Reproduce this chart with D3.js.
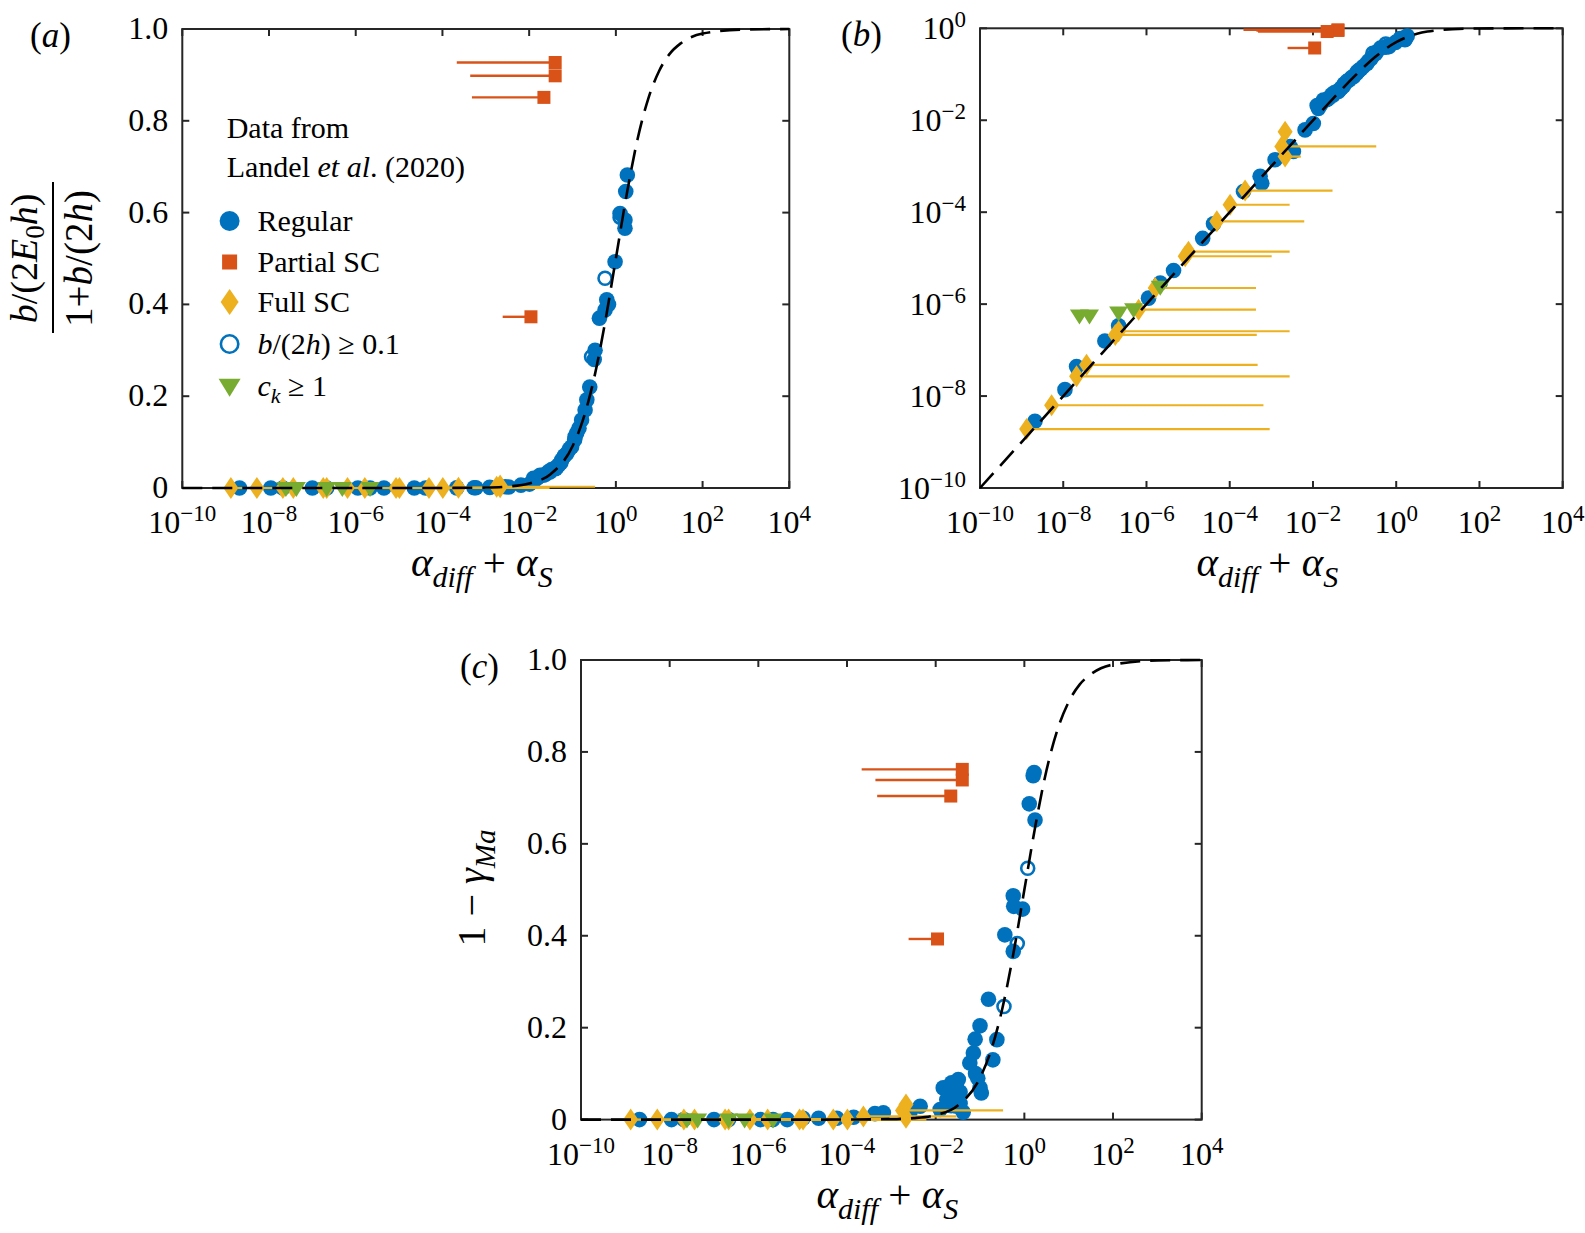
<!DOCTYPE html>
<html><head><meta charset="utf-8">
<script src="https://cdn.jsdelivr.net/npm/d3@7"></script>
<style>
body{margin:0;background:#fff}
text{font-family:"Liberation Serif","Times New Roman",serif;fill:#000}
</style>
</head><body>
<svg id="fig" width="1585" height="1233" xmlns="http://www.w3.org/2000/svg"></svg>
<script>
// ---------------- DATA ----------------
const xTickExps = [-10, -8, -6, -4, -2, 0, 2, 4];
const yTicksLin = [0, 0.2, 0.4, 0.6, 0.8, 1.0];
const yTickExpsLog = [-10, -8, -6, -4, -2, 0];

// dashed model curve
const curveX = [1e-10,1e-9,1e-8,1e-7,1e-6,1e-5,1e-4,1e-3,3.16e-3,1e-2,0.0316,0.1,0.178,0.316,0.562,1,1.78,3.16,5.62,10,17.8,31.6,100,1000,1e4];
const curveY = [1e-10,1e-9,1e-8,1e-7,1e-6,1e-5,1e-4,0.001,0.00315,0.0099,0.0307,0.0909,0.151,0.240,0.36,0.5,0.64,0.76,0.849,0.909,0.947,0.969,0.990,0.999,0.9999];

// Regular (panels a, b)
const regX = [2.09e-9,1.10e-8,2.09e-8,1.0e-7,2.14e-7,1.12e-6,2.14e-6,4.47e-6,2.24e-5,4.07e-5,2.14e-4,5.37e-4,5.89e-4,1.23e-3,2.82e-3,3.39e-3,6.46e-3,0.0102,
  0.0126,0.0135,0.0155,0.0178,0.0214,0.024,0.0282,0.0302,0.033,0.0407,0.0437,0.048,0.0537,0.0562,0.065,0.0741,0.085,0.0955,0.112,0.115,0.125,0.141,0.162,0.195,0.214,0.25,0.316,0.331,0.417,0.562,0.617,0.676,0.959,1.25,1.62,1.62,1.69,1.84];
const regY = [2.82e-9,1.38e-8,4.37e-8,1.58e-7,3.39e-7,1.35e-6,2.88e-6,5.37e-6,2.69e-5,5.62e-5,2.82e-4,6.03e-4,4.27e-4,1.38e-3,2.69e-3,2.09e-3,6.17e-3,8.51e-3,
  0.021,0.018,0.022,0.0275,0.028,0.03,0.036,0.035,0.04,0.042,0.046,0.05,0.055,0.061,0.07,0.075,0.085,0.09,0.105,0.112,0.12,0.13,0.148,0.17,0.192,0.22,0.28,0.30,0.37,0.388,0.41,0.40,0.493,0.598,0.584,0.566,0.646,0.682];
// b/(2h) >= 0.1 (panels a, b)
const openX = [0.562, 0.275, 1.25];
const openY = [0.457, 0.286, 0.59];
// Partial SC
const partX = [0.0398, 0.0398, 0.0219, 0.011];
const partY = [0.927, 0.898, 0.851, 0.373];
const partXmin = [2.14e-4, 4.37e-4, 4.79e-4, 2.45e-3];
const partYc = [0.762, 0.739, 0.704, 0.393];
// Full SC
const fullX = [1.32e-9,5.25e-9,2.09e-8,3.63e-8,1.78e-7,2.14e-7,6.46e-7,1.62e-6,8.51e-6,1.02e-5,4.90e-5,1.02e-4,2.34e-4,1.78e-3,2.14e-3,2.14e-3];
const fullY = [1.91e-9,6.31e-9,2.69e-8,4.79e-8,2.14e-7,2.57e-7,7.59e-7,2.24e-6,1.10e-5,1.38e-5,6.31e-5,1.45e-4,2.95e-4,2.69e-3,1.62e-3,5.62e-3];
const fullXmax = [9.12e-4,6.46e-4,2.75e-3,4.68e-4,4.47e-4,2.75e-3,4.27e-4,4.27e-4,1.02e-3,2.75e-3,6.17e-3,2.75e-3,2.95e-2,0.331,5.13e-3,2.14e-3];
const fullYc = [0,0,0,0,0,0,0,0,0,0,0,0,0.007,0.02,0.004,0.033];
// c_k >= 1
const ckX = [2.45e-8, 4.27e-8, 2.14e-7, 4.90e-7, 2.14e-6];
const ckY = [5.62e-7, 5.62e-7, 6.61e-7, 7.76e-7, 2.40e-6];
const ckYc = [0, 0, 0, 0, 0];
// Regular (panel c)
const regCX = [2.09e-9,1.10e-8,2.09e-8,1.0e-7,2.14e-7,1.12e-6,2.14e-6,4.47e-6,1.02e-5,2.29e-5,5.89e-5,1.41e-4,4.27e-4,6.61e-4,2.63e-3,4.47e-3,
  0.0126,0.0148,0.0178,0.020,0.0224,0.0229,0.0251,0.0282,0.0295,0.0324,0.0355,0.0355,0.0417,0.0589,0.0708,0.0776,0.0794,0.0891,0.100,0.100,0.107,0.155,0.195,0.240,0.363,0.562,0.562,0.575,0.912,1.29,1.58,1.66,1.74];
const regCY = [0,0,0,0,0,0,0,0,0.003,0.003,0.003,0.005,0.013,0.015,0.016,0.029,
  0.022,0.069,0.043,0.06,0.03,0.080,0.05,0.075,0.029,0.087,0.06,0.035,0.016,0.123,0.145,0.175,0.10,0.09,0.204,0.069,0.058,0.262,0.130,0.174,0.402,0.366,0.487,0.464,0.458,0.687,0.748,0.755,0.652];
const openCX = [1.19, 0.692, 0.347];
const openCY = [0.547, 0.383, 0.246];

// ---------------- STYLE ----------------
const C_BLUE = "#0072BD", C_ORANGE = "#D95319", C_YELLOW = "#EDB120", C_GREEN = "#77AC30", C_AX = "#262626";
const svg = d3.select("#fig");
const MINUS = "\u2212";

function circ(g, cx, cy, r, filled) {
  g.append("circle").attr("cx", cx).attr("cy", cy).attr("r", filled ? r : r - 1.3)
    .attr("fill", filled ? C_BLUE : "none").attr("stroke", C_BLUE).attr("stroke-width", filled ? 0 : 2.6);
}
function square(g, cx, cy, s) {
  g.append("rect").attr("x", cx - s / 2).attr("y", cy - s / 2).attr("width", s).attr("height", s).attr("fill", C_ORANGE);
}
function diamond(g, cx, cy, w, h) {
  g.append("path").attr("d", `M${cx},${cy - h / 2}L${cx + w / 2},${cy}L${cx},${cy + h / 2}L${cx - w / 2},${cy}Z`).attr("fill", C_YELLOW);
}
function tri(g, cx, cy, w, h) {
  g.append("path").attr("d", `M${cx - w / 2},${cy - h * 0.4}L${cx + w / 2},${cy - h * 0.4}L${cx},${cy + h * 0.6}Z`).attr("fill", C_GREEN);
}

function powLabel(sel, e, supDy) {
  sel.append("tspan").text("10");
  sel.append("tspan").attr("font-size", 23).attr("dy", supDy).text(e < 0 ? MINUS + Math.abs(e) : String(e));
}

function panel(cfg) {
  const { L, R, T, B, ylog } = cfg;
  const x = d3.scaleLog().domain([1e-10, 1e4]).range([L, R]);
  const y = ylog ? d3.scaleLog().domain([1e-10, 1]).range([B, T]) : d3.scaleLinear().domain([0, 1]).range([B, T]);
  const yv = v => ylog ? y(v) : y(Math.max(0, v));
  const g = svg.append("g");

  // axes box and ticks
  const ax = g.append("g");
  ax.append("rect").attr("x", L).attr("y", T).attr("width", R - L).attr("height", B - T)
    .attr("fill", "none").attr("stroke", C_AX).attr("stroke-width", 2);
  const tl = 7;
  xTickExps.forEach(e => {
    const px = x(Math.pow(10, e));
    ax.append("line").attr("x1", px).attr("x2", px).attr("y1", B).attr("y2", B - tl).attr("stroke", C_AX).attr("stroke-width", 2);
    ax.append("line").attr("x1", px).attr("x2", px).attr("y1", T).attr("y2", T + tl).attr("stroke", C_AX).attr("stroke-width", 2);
    const t = ax.append("text").attr("x", px).attr("y", B + 45).attr("text-anchor", "middle").attr("font-size", 32);
    powLabel(t, e, -12);
  });
  const yT = ylog ? yTickExpsLog.map(e => Math.pow(10, e)) : yTicksLin;
  yT.forEach((v, i) => {
    const py = y(v);
    ax.append("line").attr("x1", L).attr("x2", L + tl).attr("y1", py).attr("y2", py).attr("stroke", C_AX).attr("stroke-width", 2);
    ax.append("line").attr("x1", R).attr("x2", R - tl).attr("y1", py).attr("y2", py).attr("stroke", C_AX).attr("stroke-width", 2);
    const t = ax.append("text").attr("x", L - 14).attr("y", py + (ylog ? 11 : 10)).attr("text-anchor", "end").attr("font-size", 32);
    if (ylog) powLabel(t, yTickExpsLog[i], -12);
    else t.text(v === 0 ? "0" : d3.format(".1f")(v));
  });

  // x label
  const xl = g.append("text").attr("x", (L + R) / 2 - 4).attr("y", B + 88).attr("text-anchor", "middle").attr("font-size", 41);
  xl.append("tspan").attr("font-style", "italic").text("α");
  xl.append("tspan").attr("font-style", "italic").attr("font-size", 30).attr("dy", 11).text("diff");
  xl.append("tspan").attr("dy", -11).text(" + ");
  xl.append("tspan").attr("font-style", "italic").text("α");
  xl.append("tspan").attr("font-style", "italic").attr("font-size", 30).attr("dy", 11).text("S");

  // panel letter
  const pl = g.append("text").attr("x", cfg.labX).attr("y", T + 18).attr("font-size", 35);
  pl.append("tspan").text("(");
  pl.append("tspan").attr("font-style", "italic").text(cfg.letter);
  pl.append("tspan").text(")");

  // data
  const d = cfg.data;
  const mk = g.append("g");
  d.regX.forEach((v, i) => circ(mk, x(v), yv(d.regY[i]), 7.8, true));
  d.openX.forEach((v, i) => circ(mk, x(v), yv(d.openY[i]), 7.8, false));
  d.fullX.forEach((v, i) => {
    mk.append("line").attr("x1", x(v)).attr("x2", x(fullXmax[i])).attr("y1", yv(d.fullY[i])).attr("y2", yv(d.fullY[i]))
      .attr("stroke", C_YELLOW).attr("stroke-width", 2.2);
  });
  d.partX.forEach((v, i) => {
    mk.append("line").attr("x1", x(partXmin[i])).attr("x2", x(v)).attr("y1", yv(d.partY[i])).attr("y2", yv(d.partY[i]))
      .attr("stroke", C_ORANGE).attr("stroke-width", 2.4);
  });
  d.partX.forEach((v, i) => square(mk, x(v), yv(d.partY[i]), 13));
  d.fullX.forEach((v, i) => diamond(mk, x(v), yv(d.fullY[i]), 15, 22));
  d.ckX.forEach((v, i) => tri(mk, x(v), yv(d.ckY[i]), 19, 15));

  // model curve
  const line = d3.line().x(p => x(p[0])).y(p => y(p[1])).curve(d3.curveMonotoneX);
  g.append("path").attr("d", line(curveX.map((v, i) => [v, curveY[i]])))
    .attr("fill", "none").attr("stroke", "#000").attr("stroke-width", 2.6).attr("stroke-dasharray", "20,10");
  return g;
}

// ---------------- PANELS ----------------
const dataAB = { regX, regY, openX, openY, partX, partY, fullX, fullY, ckX, ckY };
panel({ L: 182.3, R: 789.3, T: 29, B: 488, ylog: false, letter: "a", labX: 30, data: dataAB });
panel({ L: 980, R: 1562.7, T: 28.3, B: 488, ylog: true, letter: "b", labX: 841, data: dataAB });
panel({ L: 581, R: 1201.7, T: 660, B: 1119.6, ylog: false, letter: "c", labX: 460,
  data: { regX: regCX, regY: regCY, openX: openCX, openY: openCY, partX, partY: partYc, fullX, fullY: fullYc, ckX, ckY: ckYc } });

// y label (a): fraction
{
  const cy = 258.5;
  const g = svg.append("g");
  const num = g.append("text").attr("transform", `translate(37,${cy}) rotate(-90)`).attr("text-anchor", "middle").attr("font-size", 38);
  num.append("tspan").attr("font-style", "italic").text("b");
  num.append("tspan").text("/(2");
  num.append("tspan").attr("font-style", "italic").text("E");
  num.append("tspan").attr("font-size", 27).attr("dy", 7).text("0");
  num.append("tspan").attr("font-style", "italic").attr("dy", -7).text("h");
  num.append("tspan").text(")");
  g.append("line").attr("x1", 53).attr("x2", 53).attr("y1", 182).attr("y2", 333).attr("stroke", "#000").attr("stroke-width", 2);
  const den = g.append("text").attr("transform", `translate(92,${cy}) rotate(-90)`).attr("text-anchor", "middle").attr("font-size", 39);
  den.append("tspan").text("1+");
  den.append("tspan").attr("font-style", "italic").text("b");
  den.append("tspan").text("/(2");
  den.append("tspan").attr("font-style", "italic").text("h");
  den.append("tspan").text(")");
}
// y label (c)
{
  const t = svg.append("text").attr("transform", `translate(485,888) rotate(-90)`).attr("text-anchor", "middle").attr("font-size", 40);
  t.append("tspan").text("1 " + MINUS + " ");
  t.append("tspan").attr("font-style", "italic").text("γ");
  t.append("tspan").attr("font-style", "italic").attr("font-size", 29).attr("dy", 10).text("Ma");
}

// legend (a)
{
  const g = svg.append("g");
  const fs = 30;
  g.append("text").attr("x", 226.7).attr("y", 137.7).attr("font-size", fs).text("Data from");
  const l2 = g.append("text").attr("x", 226.7).attr("y", 176.7).attr("font-size", fs);
  l2.append("tspan").text("Landel ");
  l2.append("tspan").attr("font-style", "italic").text("et al");
  l2.append("tspan").text(". (2020)");
  const mx = 229.6, tx = 257.5;
  const rows = [221, 262, 302, 344, 386];
  circ(g, mx, rows[0], 10, true);
  square(g, mx, rows[1], 15);
  diamond(g, mx, rows[2], 18, 26);
  circ(g, mx, rows[3], 10, false);
  tri(g, mx, rows[4], 22, 18);
  g.append("text").attr("x", tx).attr("y", rows[0] + 10).attr("font-size", fs).text("Regular");
  g.append("text").attr("x", tx).attr("y", rows[1] + 10).attr("font-size", fs).text("Partial SC");
  g.append("text").attr("x", tx).attr("y", rows[2] + 10).attr("font-size", fs).text("Full SC");
  const t4 = g.append("text").attr("x", tx).attr("y", rows[3] + 10).attr("font-size", fs);
  t4.append("tspan").attr("font-style", "italic").text("b");
  t4.append("tspan").text("/(2");
  t4.append("tspan").attr("font-style", "italic").text("h");
  t4.append("tspan").text(") ≥ 0.1");
  const t5 = g.append("text").attr("x", tx).attr("y", rows[4] + 10).attr("font-size", fs);
  t5.append("tspan").attr("font-style", "italic").text("c");
  t5.append("tspan").attr("font-style", "italic").attr("font-size", 22).attr("dy", 7).text("k");
  t5.append("tspan").attr("dy", -7).text(" ≥ 1");
}
</script>
</body></html>
